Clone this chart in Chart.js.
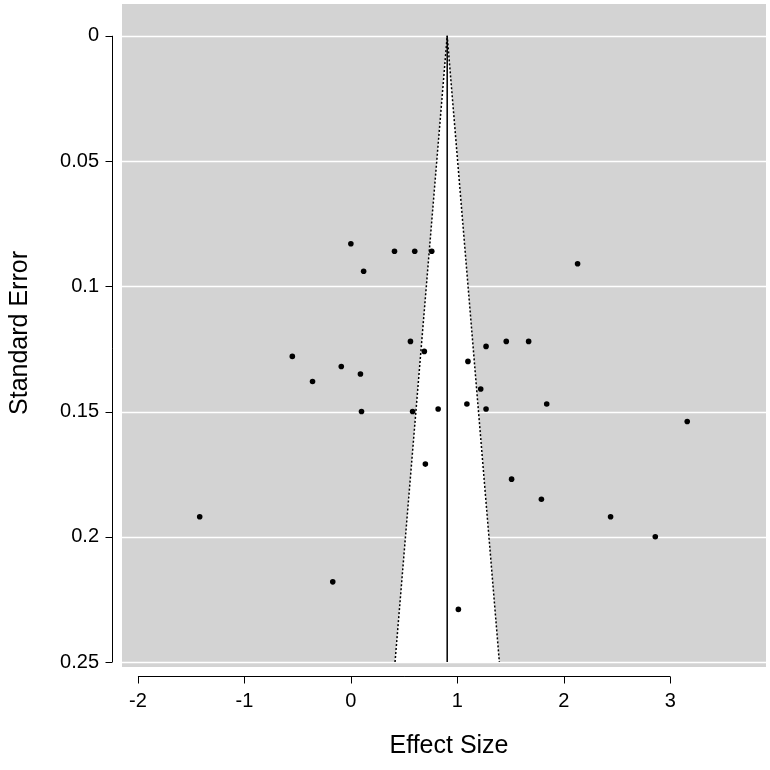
<!DOCTYPE html>
<html><head><meta charset="utf-8">
<script src="https://cdn.jsdelivr.net/npm/chart.js@4"></script>
<style>html,body{margin:0;padding:0;background:#fff}#w{width:770px;height:770px}</style>
</head><body><div id="w"><canvas id="c"></canvas></div>
<script>
const effectSize=[0.0,0.41,0.60,0.76,0.12,2.13,-0.55,0.56,0.69,-0.09,0.09,-0.36,1.10,1.27,1.46,1.67,1.22,0.10,0.58,0.82,1.09,1.27,1.84,3.16,0.70,1.51,1.79,-1.42,2.44,2.86,-0.17,1.01];
const stdError=[0.083,0.086,0.086,0.086,0.094,0.091,0.128,0.122,0.126,0.132,0.135,0.138,0.130,0.124,0.122,0.122,0.141,0.150,0.150,0.149,0.147,0.149,0.147,0.154,0.171,0.177,0.185,0.192,0.192,0.200,0.218,0.229];
const xTicks=[-2,-1,0,1,2,3];
const yTicks=[0,0.05,0.1,0.15,0.2,0.25];
const xLabels=['-2','-1','0','1','2','3'];
const yLabels=['0','0.05','0.1','0.15','0.2','0.25'];
const pooled=0.905;
const seMax=0.25;
const pts=effectSize.map((v,i)=>({x:v,y:stdError[i]}));
const lo=pooled-1.96*seMax, hi=pooled+1.96*seMax;
const F="'Liberation Sans', Arial, sans-serif";
const bg={id:'bg',beforeDatasetsDraw(ch){
  const {ctx,chartArea:a,scales:{x,y}}=ch;
  ctx.save();ctx.fillStyle='#d3d3d3';ctx.fillRect(a.left,a.top,a.right-a.left,a.bottom-a.top);
  ctx.strokeStyle='#fff';ctx.lineWidth=1.5;
  yTicks.forEach(t=>{const p=Math.round(y.getPixelForValue(t))+0.5;ctx.beginPath();ctx.moveTo(a.left,p);ctx.lineTo(a.right,p);ctx.stroke();});
  ctx.fillStyle='#fff';ctx.beginPath();
  ctx.moveTo(x.getPixelForValue(lo),y.getPixelForValue(seMax));
  ctx.lineTo(x.getPixelForValue(pooled),y.getPixelForValue(0));
  ctx.lineTo(x.getPixelForValue(hi),y.getPixelForValue(seMax));ctx.closePath();ctx.fill();
  ctx.restore();
},afterDraw(ch){
  const {ctx,scales:{x,y}}=ch;
  ctx.save();ctx.strokeStyle='#000';ctx.lineWidth=1;
  const ay=676.5, ax=112.5;
  ctx.beginPath();ctx.moveTo(x.getPixelForValue(-2),ay);ctx.lineTo(x.getPixelForValue(3),ay);
  xTicks.forEach(t=>{const p=Math.round(x.getPixelForValue(t))+0.5;ctx.moveTo(p,ay);ctx.lineTo(p,ay+7);});
  ctx.moveTo(ax,y.getPixelForValue(0));ctx.lineTo(ax,y.getPixelForValue(0.25));
  yTicks.forEach(t=>{const p=Math.round(y.getPixelForValue(t))+0.5;ctx.moveTo(ax,p);ctx.lineTo(ax-7,p);});
  ctx.stroke();
  ctx.fillStyle='#000';ctx.font='20px '+F;
  ctx.textAlign='center';ctx.textBaseline='middle';
  xTicks.forEach((t,i)=>ctx.fillText(xLabels[i],x.getPixelForValue(t),701));
  ctx.textAlign='right';
  yTicks.forEach((t,i)=>ctx.fillText(yLabels[i],99,y.getPixelForValue(t)));
  ctx.font='25px '+F;ctx.textAlign='center';
  ctx.fillText('Effect Size',449,746);
  ctx.translate(20,333);ctx.rotate(-Math.PI/2);ctx.fillText('Standard Error',0,0);
  ctx.restore();
}};
new Chart(document.getElementById('c'),{
  type:'scatter',
  data:{datasets:[
    {data:pts,pointRadius:2.8,pointBackgroundColor:'#000',pointBorderWidth:0,order:1},
    {type:'line',data:[{x:lo,y:seMax},{x:pooled,y:0},{x:hi,y:seMax}],borderColor:'#000',borderWidth:1.5,borderDash:[2,2],pointRadius:0,fill:false,order:2},
    {type:'line',data:[{x:pooled,y:0},{x:pooled,y:seMax}],borderColor:'#000',borderWidth:1.5,pointRadius:0,fill:false,order:2}
  ]},
  options:{responsive:true,maintainAspectRatio:false,animation:false,
    layout:{padding:0},
    plugins:{legend:{display:false},tooltip:{enabled:false}},
    scales:{
      x:{type:'linear',min:-2.15,max:3.9,
        afterBuildTicks(s){s.ticks=xTicks.map(v=>({value:v}));},
        afterFit(s){s.height=103;},
        grid:{display:false},border:{display:false},ticks:{display:false}},
      y:{type:'linear',min:-0.0127,max:0.252,reverse:true,
        afterBuildTicks(s){s.ticks=yTicks.map(v=>({value:v}));},
        afterFit(s){s.width=122;},
        grid:{display:false},border:{display:false},ticks:{display:false}}
    }},
  plugins:[bg]
});
</script></body></html>
